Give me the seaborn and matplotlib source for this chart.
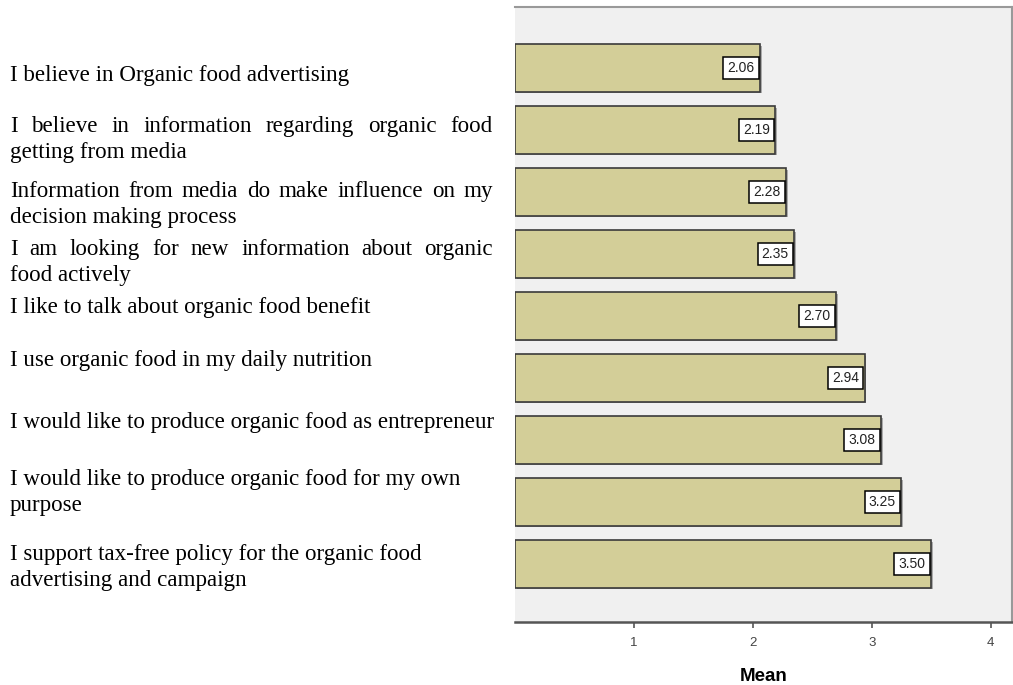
import matplotlib
matplotlib.use("Agg")
import matplotlib.pyplot as plt
import matplotlib.transforms as mtransforms
import matplotlib.patheffects as pe
import pandas as pd
import seaborn as sns

# ==========================================
# DATA
# ==========================================
items = [
    "I believe in Organic food advertising",
    "I believe in information regarding organic food getting from media",
    "Information from media do make influence on my decision making process",
    "I am looking for new information about organic food actively",
    "I like to talk about organic food benefit",
    "I use organic food in my daily nutrition",
    "I would like to produce organic food as entrepreneur",
    "I would like to produce organic food for my own purpose",
    "I support tax-free policy for the organic food advertising and campaign",
]
means = [2.06, 2.19, 2.28, 2.35, 2.70, 2.94, 3.08, 3.25, 3.50]

# how the labels are broken into lines in the source document
item_lines = [
    ["I believe in Organic food advertising"],
    ["I believe in information regarding organic food", "getting from media"],
    ["Information from media do make influence on my", "decision making process"],
    ["I am looking for new information about organic", "food actively"],
    ["I like to talk about organic food benefit"],
    ["I use organic food in my daily nutrition"],
    ["I would like to produce organic food as entrepreneur"],
    ["I would like to produce organic food for my own", "purpose"],
    ["I support tax-free policy for the organic food", "advertising and campaign"],
]
x_ticks = [1, 2, 3, 4]
x_ticklabels = ["1", "2", "3", "4"]

# layout: baseline of first line relative to bar centre (category units)
label_nudge = [0.21, 0.03, 0.08, 0.02, -0.05, -0.19, -0.19, -0.27, -0.06]
justified_first = [False, True, True, True, False, False, False, False, False]
LINE_STEP = 0.42

BAR_COLOR = "#D3CE98"
BG_COLOR = "#F0F0F0"

df = pd.DataFrame({"Item": items, "Mean": means})

fig = plt.figure(figsize=(10.13, 6.85), dpi=100)
ax = fig.add_axes([515 / 1013, 63 / 685, (1012 - 515) / 1013, (622 - 7) / 685])

sns.barplot(data=df, x="Mean", y="Item", orient="h", color=BAR_COLOR,
            saturation=1, width=0.76, edgecolor="#3a3a3a", linewidth=1.2, ax=ax)

# faint drop shadow like the SPSS output
for bar in ax.patches:
    bar.set_path_effects([pe.SimplePatchShadow(offset=(1.2, -1.2), shadow_rgbFace="#9a9a9a", alpha=0.8),
                          pe.Normal()])

ax.set_facecolor(BG_COLOR)
ax.set_xlim(0, 4.18)
ax.set_ylim(8.935, -0.984)
ax.set_yticks([])
ax.set_ylabel("")
ax.set_xticks(x_ticks)
ax.set_xticklabels(x_ticklabels, fontsize=9.5, color="#444444", family="Liberation Sans")
ax.tick_params(axis="x", direction="out", length=4.5, width=1.2, color="#555555", pad=6)
ax.set_xlabel("Mean", fontsize=13.5, fontweight="bold", family="Liberation Sans", labelpad=14)

for side in ["top", "right"]:
    ax.spines[side].set_color("#999999")
    ax.spines[side].set_linewidth(1.5)
ax.spines["left"].set_visible(False)
ax.spines["bottom"].set_color("#555555")
ax.spines["bottom"].set_linewidth(1.8)

# value boxes at bar ends
for i, v in enumerate(means):
    ax.annotate(f"{v:.2f}", xy=(v, i), xytext=(-4, 0), textcoords="offset points",
                ha="right", va="center", fontsize=10, color="#222222",
                family="Liberation Sans",
                bbox=dict(boxstyle="square,pad=0.3", fc="white", ec="black", lw=1.1))

# item labels on the left (serif, justified where the source was)
trans = mtransforms.blended_transform_factory(fig.transFigure, ax.transData)
renderer = fig.canvas.get_renderer()
X0, X1 = 10 / 1013, 493 / 1013
text_kw = dict(fontsize=16.6, family="Liberation Serif", color="black", va="baseline")

for i, lines in enumerate(item_lines):
    for k, line in enumerate(lines):
        y = i + label_nudge[i] + k * LINE_STEP
        if k == 0 and justified_first[i]:
            words = line.split()
            objs = [fig.text(X0, y, w, transform=trans, ha="left", **text_kw) for w in words]
            widths = [o.get_window_extent(renderer).width / fig.bbox.width for o in objs]
            gap = (X1 - X0 - sum(widths)) / (len(words) - 1)
            x = X0
            for o, w in zip(objs, widths):
                o.set_x(x)
                x += w + gap
        else:
            fig.text(X0, y, line, transform=trans, ha="left", **text_kw)

fig.savefig("out.png", dpi=100, facecolor="white")
